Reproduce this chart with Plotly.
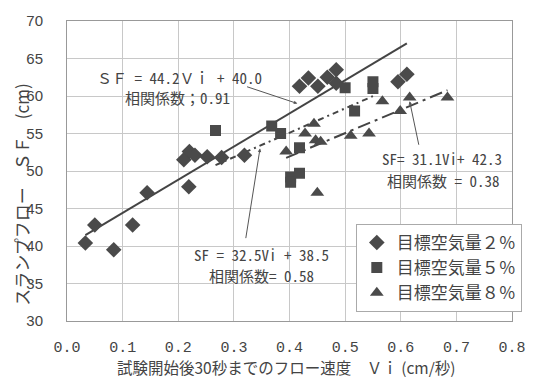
import plotly.graph_objects as go

# ---- data ----
series_names = ["目標空気量２％", "目標空気量５％", "目標空気量８％"]

vi_2 = [0.033, 0.050, 0.084, 0.118, 0.144, 0.210, 0.220, 0.230, 0.219, 0.252, 0.278, 0.319,
        0.418, 0.434, 0.451, 0.468, 0.484, 0.484, 0.595, 0.611]
sf_2 = [40.4, 42.8, 39.5, 42.8, 47.1, 51.5, 52.6, 52.1, 47.9, 51.9, 51.8, 52.1,
        61.3, 62.4, 61.3, 62.5, 63.5, 61.7, 61.9, 62.9]

vi_5 = [0.267, 0.368, 0.384, 0.402, 0.402, 0.418, 0.418, 0.500, 0.517, 0.550, 0.550]
sf_5 = [55.4, 56.0, 55.0, 49.2, 48.5, 49.7, 53.1, 61.1, 58.0, 61.9, 61.0]

vi_8 = [0.394, 0.428, 0.444, 0.447, 0.456, 0.450, 0.510, 0.543, 0.567, 0.599, 0.616, 0.684]
sf_8 = [52.6, 55.0, 56.3, 54.1, 53.9, 47.1, 54.7, 55.0, 59.3, 58.0, 59.8, 59.8]

# trend lines (slope, intercept as drawn)
trend_slope = [44.2, 32.5, 31.1]
trend_intercept = [40.0, 42.1, 39.5]

x_ticks = [0.0, 0.1, 0.2, 0.3, 0.4, 0.5, 0.6, 0.7, 0.8]
y_ticks = [30, 35, 40, 45, 50, 55, 60, 65, 70]

INK = "#444444"
MARK = "#4a4a4a"
MONO = "Noto Sans Mono CJK JP, Liberation Mono, Noto Sans CJK JP, monospace"
CJK = "Noto Sans CJK JP, sans-serif"

fig = go.Figure()

series = [(vi_2, sf_2, "diamond", 12), (vi_5, sf_5, "square", 11), (vi_8, sf_8, "triangle-up", 12)]
dashes = ["solid", "6px,4px,2px,4px", "13px,5px,3px,5px"]

for i, (xs, ys, sym, size) in enumerate(series):
    x0, x1 = min(xs), max(xs)
    fig.add_trace(go.Scatter(
        x=[x0, x1], y=[trend_intercept[i] + trend_slope[i] * x0, trend_intercept[i] + trend_slope[i] * x1],
        mode="lines", line=dict(color=INK, width=2, dash=dashes[i]),
        showlegend=False, hoverinfo="skip"))

for i, (xs, ys, sym, size) in enumerate(series):
    fig.add_trace(go.Scatter(
        x=xs, y=ys, mode="markers", name=series_names[i],
        marker=dict(symbol=sym, size=size, color=MARK, line=dict(width=0))))

ann = []
def label(text, x, y, size=15, family=MONO):
    ann.append(dict(text=text, x=x, y=y, xref="x", yref="y", showarrow=False,
                    font=dict(family=family, size=size, color=INK), xanchor="center", yanchor="middle"))

def arrow(x_tail, y_tail, x_tip, y_tip):
    ann.append(dict(text="", x=x_tip, y=y_tip, ax=x_tail, ay=y_tail, xref="x", yref="y",
                    axref="x", ayref="y", showarrow=True, arrowhead=2, arrowsize=0.7,
                    arrowwidth=1, arrowcolor="#555555"))

label("ＳＦ = 44.2Ｖｉ + 40.0", 0.202, 62.5, 15)
label("相関係数；0.91", 0.198, 59.8, 15)
arrow(0.321, 61.3, 0.414, 59.0)

label("SF= 31.1Vi+ 42.3", 0.675, 51.7, 15)
label("相関係数 = 0.38", 0.676, 48.8, 15)
arrow(0.633, 53.3, 0.616, 59.3)

label("SF = 32.5Vi + 38.5", 0.349, 38.9, 15)
label("相関係数= 0.58", 0.35, 36.1, 15)
arrow(0.321, 40.85, 0.347, 53.0)

ann.append(dict(text="試験開始後30秒までのフロー速度　Ｖｉ (cm/秒)", x=0.493, y=0, xref="paper", yref="paper",
                xanchor="center", yanchor="top", yshift=-33, showarrow=False,
                font=dict(family=CJK, size=15.5, color=INK)))
ann.append(dict(text="スランプフロー　ＳＦ　(cm)", x=-0.103, y=0.4216, xref="paper", yref="paper",
                xanchor="center", yanchor="middle", textangle=-90, showarrow=False,
                font=dict(family=CJK, size=17, color=INK)))

fig.update_layout(
    width=538, height=377,
    margin=dict(l=67, r=15, t=15, b=56),
    paper_bgcolor="white", plot_bgcolor="white",
    annotations=ann,
    legend=dict(x=0.649, y=0.3235, xanchor="left", yanchor="top",
                bordercolor="#aaaaaa", borderwidth=1, bgcolor="white",
                font=dict(family=CJK, size=17, color=INK), itemwidth=30,
                tracegroupgap=0),
    xaxis=dict(range=[0, 0.8], tickvals=x_ticks, ticktext=[f"{v:.1f}" for v in x_ticks],
               showgrid=True, gridcolor="#c8c8c8", gridwidth=1, zeroline=False,
               showline=True, linecolor="#999999", mirror=True, ticks="",
               ticklabelstandoff=12,
               tickfont=dict(family="Liberation Mono, monospace", size=15, color=INK)),
    yaxis=dict(range=[30, 70], tickvals=y_ticks,
               showgrid=True, gridcolor="#c8c8c8", gridwidth=1, zeroline=False,
               showline=True, linecolor="#999999", mirror=True, ticks="",
               ticklabelstandoff=20,
               tickfont=dict(family="Liberation Sans Narrow, Arial Narrow, sans-serif", size=15, color=INK)),
)

fig.write_html("out.html")
